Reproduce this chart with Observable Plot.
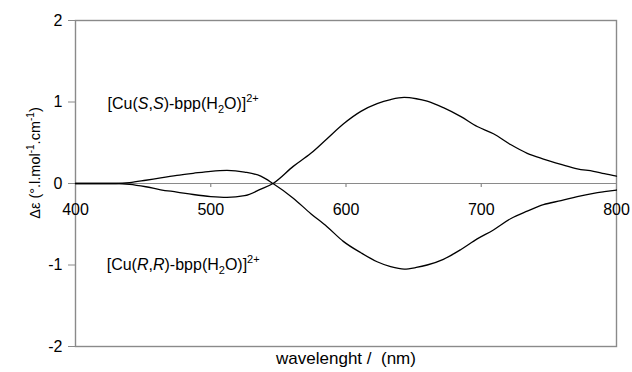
<!DOCTYPE html>
<html>
<head>
<meta charset="utf-8">
<script src="https://cdn.jsdelivr.net/npm/d3@7"></script>
<script src="https://cdn.jsdelivr.net/npm/@observablehq/plot@0.6"></script>
<style>
  html, body { margin: 0; padding: 0; background: #fff; }
  svg { font-family: "Liberation Sans", Arial, Helvetica, sans-serif; }
</style>
</head>
<body>
<div id="chart"></div>
<script>
// wavelength (nm)
const wavelength = [400, 415, 430, 440, 452, 463, 475, 487, 500, 512, 525, 537, 546, 561, 574, 586, 598, 611, 623, 633, 643, 652, 660, 672, 685, 697, 709, 722, 734, 746, 759, 771, 783, 791, 800];
// Δε for [Cu(S,S)-bpp(H2O)]2+
const seriesSS = [0, 0, 0, -0.01, -0.04, -0.077, -0.105, -0.135, -0.16, -0.17, -0.15, -0.07, 0, 0.21, 0.37, 0.55, 0.73, 0.885, 0.98, 1.03, 1.056, 1.04, 1.01, 0.93, 0.82, 0.70, 0.61, 0.475, 0.37, 0.30, 0.235, 0.18, 0.15, 0.12, 0.09];
// Δε for [Cu(R,R)-bpp(H2O)]2+
const seriesRR = [0, 0, 0, 0.01, 0.04, 0.07, 0.10, 0.125, 0.15, 0.16, 0.14, 0.09, 0, -0.18, -0.37, -0.53, -0.71, -0.85, -0.96, -1.02, -1.05, -1.03, -1.00, -0.93, -0.81, -0.68, -0.57, -0.43, -0.34, -0.26, -0.21, -0.16, -0.12, -0.10, -0.08];
const xTicks = [400, 500, 600, 700, 800];
const yTicks = [-2, -1, 0, 1, 2];
const seriesLabels = [
  {name: "SS", x: 480, y: 0.906, parts: ["[Cu(", "S", ",", "S", ")-bpp(H", "2", "O)]", "2+"]},
  {name: "RR", x: 480, y: -1.07, parts: ["[Cu(", "R", ",", "R", ")-bpp(H", "2", "O)]", "2+"]}
];
const xTitle = "wavelenght / \u00a0(nm)";
const yTitleParts = ["\u0394\u03b5 (°.l.mol", "-1", ".cm", "-1", ")"];

const dataSS = wavelength.map((w, i) => ({w, v: seriesSS[i]}));
const dataRR = wavelength.map((w, i) => ({w, v: seriesRR[i]}));

const gray = "#8a8a8a";
const plot = Plot.plot({
  width: 632,
  height: 372,
  marginLeft: 75,
  marginRight: 16,
  marginTop: 20,
  marginBottom: 26,
  style: {fontFamily: "'Liberation Sans', Arial, Helvetica, sans-serif", fontSize: "16px", background: "#fff"},
  x: {domain: [400, 800], axis: null},
  y: {domain: [-2, 2], axis: null},
  marks: [
    Plot.frame({stroke: gray, strokeWidth: 1.4}),
    Plot.ruleY([0], {stroke: gray, strokeWidth: 1.2}),
    Plot.ruleX(xTicks.slice(1, -1), {x: d => d, y1: 0, y2: -0.05, stroke: gray, strokeWidth: 1.2}),
    Plot.axisY({ticks: yTicks, tickSize: 7, tickPadding: 6, tickFormat: d => String(d), label: null, stroke: gray, fontSize: 16, color: "#000"}),
    Plot.text(xTicks, {x: d => d, y: 0, dy: 26, text: d => String(d), fontSize: 16, fill: "#000"}),
    Plot.line(dataSS, {x: "w", y: "v", curve: "monotone-x", stroke: "#000", strokeWidth: 1.3}),
    Plot.line(dataRR, {x: "w", y: "v", curve: "monotone-x", stroke: "#000", strokeWidth: 1.3}),
    Plot.text([xTitle], {frameAnchor: "bottom", dy: 17, fontSize: 17, fill: "#000"})
  ]
});

const sx = plot.scale("x"), sy = plot.scale("y");
const svg = d3.select(plot);

// y-axis title with superscripts
const yt = svg.append("text")
  .attr("transform", `translate(40, ${(sy.apply(0) - 20)}) rotate(-90)`)
  .attr("text-anchor", "middle")
  .attr("font-size", 14.5)
  .attr("fill", "#000");
yt.append("tspan").text(yTitleParts[0]);
yt.append("tspan").attr("font-size", 10).attr("dy", -6).text(yTitleParts[1]);
yt.append("tspan").attr("dy", 6).text(yTitleParts[2]);
yt.append("tspan").attr("font-size", 10).attr("dy", -6).text(yTitleParts[3]);
yt.append("tspan").attr("dy", 6).text(yTitleParts[4]);

// series labels with italic, subscript and superscript parts, placed via the plot's scales
for (const lab of seriesLabels) {
  const t = svg.append("text")
    .attr("x", sx.apply(lab.x))
    .attr("y", sy.apply(lab.y))
    .attr("font-size", 16)
    .attr("fill", "#000");
  const p = lab.parts;
  t.append("tspan").text(p[0]);
  t.append("tspan").attr("font-style", "italic").text(p[1]);
  t.append("tspan").text(p[2]);
  t.append("tspan").attr("font-style", "italic").text(p[3]);
  t.append("tspan").text(p[4]);
  t.append("tspan").attr("font-size", 11).attr("dy", 4).text(p[5]);
  t.append("tspan").attr("dy", -4).text(p[6]);
  t.append("tspan").attr("font-size", 11).attr("dy", -7).text(p[7]);
}

document.getElementById("chart").appendChild(plot);
</script>
</body>
</html>
